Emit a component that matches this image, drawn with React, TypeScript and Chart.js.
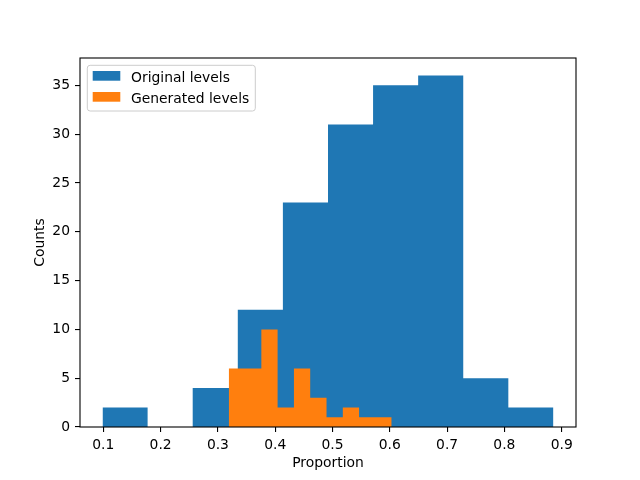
import React, { useEffect, useRef } from 'react';
import { Chart, registerables } from 'chart.js';

Chart.register(...registerables);

// ---- data ----
const originalEdges = [0.0986, 0.1773, 0.256, 0.3347, 0.4134, 0.4921, 0.5708, 0.6495, 0.7282, 0.8069, 0.8856];
const originalCounts = [2, 0, 4, 12, 23, 31, 35, 36, 5, 2];
const generatedEdges = [0.3189, 0.3473, 0.3758, 0.4042, 0.4327, 0.4611, 0.4896, 0.518, 0.5464, 0.5749, 0.6033];
const generatedCounts = [6, 6, 10, 2, 6, 3, 1, 2, 1, 1];
const xTicks = [0.1, 0.2, 0.3, 0.4, 0.5, 0.6, 0.7, 0.8, 0.9];
const yTicks = [0, 5, 10, 15, 20, 25, 30, 35];
const seriesLabels = ['Original levels', 'Generated levels'];
const seriesColors = ['#1f77b4', '#ff7f0e'];
const xTitle = 'Proportion';
const yTitle = 'Counts';

const FONT = 'DejaVu Sans';
const FS = 13.89;

function toSteps(edges: number[], counts: number[]) {
  const pts = counts.map((c, i) => ({ x: edges[i], y: c }));
  pts.push({ x: edges[edges.length - 1], y: counts[counts.length - 1] });
  return pts;
}

const decorPlugin = {
  id: 'decor',
  afterDraw(chart: any) {
    const { ctx, chartArea } = chart;
    const { left, right, top, bottom } = chartArea;
    ctx.save();
    // frame
    ctx.strokeStyle = '#000';
    ctx.lineWidth = 1.1;
    ctx.strokeRect(left, top, right - left, bottom - top);

    // axis titles
    ctx.fillStyle = '#000';
    ctx.font = `${FS}px "${FONT}"`;
    ctx.textAlign = 'center';
    ctx.textBaseline = 'alphabetic';
    ctx.fillText(xTitle, (left + right) / 2, 466.7);
    ctx.save();
    ctx.translate(44, (top + bottom) / 2);
    ctx.rotate(-Math.PI / 2);
    ctx.fillText(yTitle, 0, 0);
    ctx.restore();

    // legend
    const lx = left + 7.3, ly = top + 7.3, lw = 168, lh = 45.7, r = 2.8;
    ctx.beginPath();
    ctx.moveTo(lx + r, ly);
    ctx.lineTo(lx + lw - r, ly);
    ctx.arcTo(lx + lw, ly, lx + lw, ly + r, r);
    ctx.lineTo(lx + lw, ly + lh - r);
    ctx.arcTo(lx + lw, ly + lh, lx + lw - r, ly + lh, r);
    ctx.lineTo(lx + r, ly + lh);
    ctx.arcTo(lx, ly + lh, lx, ly + lh - r, r);
    ctx.lineTo(lx, ly + r);
    ctx.arcTo(lx, ly, lx + r, ly, r);
    ctx.closePath();
    ctx.fillStyle = 'rgba(255,255,255,0.8)';
    ctx.fill();
    ctx.strokeStyle = '#cccccc';
    ctx.lineWidth = 1;
    ctx.stroke();

    const rows = [0, 1];
    rows.forEach((i) => {
      const py = ly + 5.7 + i * 21;
      ctx.fillStyle = seriesColors[i];
      ctx.fillRect(lx + 5.4, py, 27.6, 9.7);
      ctx.fillStyle = '#000';
      ctx.textAlign = 'left';
      ctx.textBaseline = 'alphabetic';
      ctx.fillText(seriesLabels[i], lx + 43.7, ly + 16.2 + i * 21);
    });
    ctx.restore();
  },
};

export default function App() {
  const ref = useRef<HTMLCanvasElement | null>(null);
  useEffect(() => {
    document.body.style.margin = '0';
    const canvas = ref.current;
    if (!canvas) return;
    const tickGrid = {
      display: true,
      drawOnChartArea: false,
      drawTicks: true,
      tickLength: 5,
      color: '#000',
      lineWidth: 1.1,
    };
    const chart = new Chart(canvas, {
      type: 'line',
      data: {
        datasets: [
          {
            label: seriesLabels[0],
            data: toSteps(originalEdges, originalCounts),
            stepped: true,
            fill: 'origin',
            backgroundColor: seriesColors[0],
            borderColor: 'transparent',
            borderWidth: 0,
            pointRadius: 0,
            order: 2,
          },
          {
            label: seriesLabels[1],
            data: toSteps(generatedEdges, generatedCounts),
            stepped: true,
            fill: 'origin',
            backgroundColor: seriesColors[1],
            borderColor: 'transparent',
            borderWidth: 0,
            pointRadius: 0,
            order: 1,
          },
        ],
      },
      options: {
        animation: false,
        responsive: false,
        devicePixelRatio: 1,
        layout: { padding: { top: 58, right: 64, left: 0, bottom: 0 } },
        plugins: { legend: { display: false }, tooltip: { enabled: false } },
        scales: {
          x: {
            type: 'linear',
            min: 0.0593,
            max: 0.925,
            afterBuildTicks: (s: any) => {
              s.ticks = xTicks.map((v) => ({ value: v }));
            },
            afterFit: (s: any) => {
              s.height = 53;
            },
            grid: tickGrid,
            border: { display: false },
            ticks: {
              callback: (v: any) => Number(v).toFixed(1),
              color: '#000',
              font: { family: FONT, size: FS },
              padding: 5,
              maxRotation: 0,
              autoSkip: false,
            },
          },
          y: {
            type: 'linear',
            min: 0,
            max: 37.8,
            afterBuildTicks: (s: any) => {
              s.ticks = yTicks.map((v) => ({ value: v }));
            },
            afterFit: (s: any) => {
              s.width = 80;
            },
            grid: tickGrid,
            border: { display: false },
            ticks: {
              callback: (v: any) => String(v),
              color: '#000',
              font: { family: FONT, size: FS },
              padding: 5,
              autoSkip: false,
            },
          },
        },
      },
      plugins: [decorPlugin],
    } as any);
    return () => chart.destroy();
  }, []);
  return <canvas ref={ref} width={640} height={480} style={{ display: 'block', width: 640, height: 480 }} />;
}
